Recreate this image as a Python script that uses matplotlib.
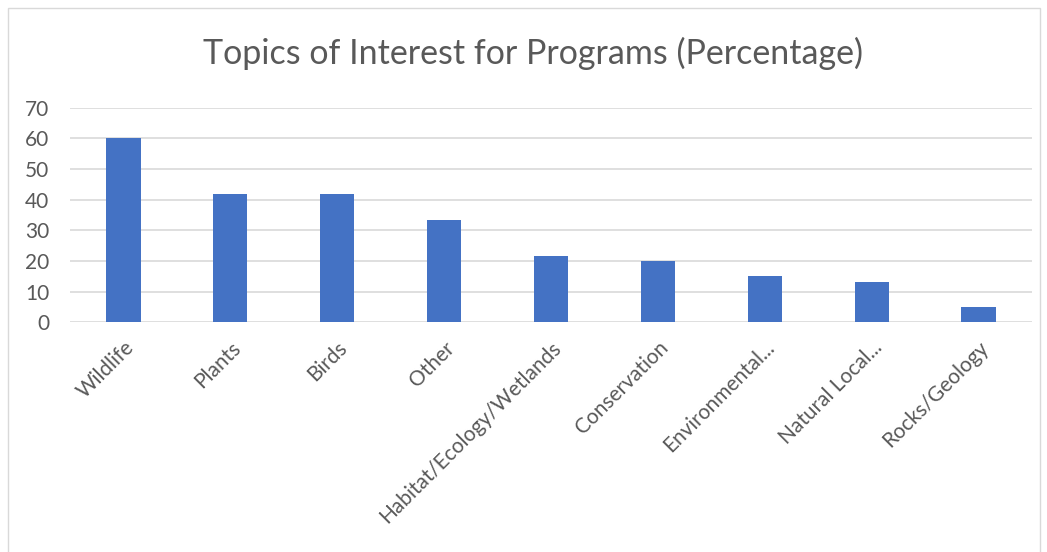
import matplotlib.pyplot as plt
from matplotlib.patches import Rectangle

# Topics and percentages
topics = ['Wildlife', 'Plants', 'Birds', 'Other', 'Habitat/Ecology/Wetlands',
          'Conservation', 'Environmental...', 'Natural Local...', 'Rocks/Geology']
percent = [60, 41.7, 41.7, 33.3, 21.7, 20, 15, 13.3, 5]
yticks = [0, 10, 20, 30, 40, 50, 60, 70]

plt.rcParams['font.family'] = ['Lato', 'DejaVu Sans']

fig = plt.figure(figsize=(10.47, 5.52), dpi=100)
ax = fig.add_axes([70 / 1047, (552 - 322.3) / 552, 962 / 1047, (322.3 - 107.7) / 552])

# chart-area border
fig.patches.append(Rectangle((8 / 1047, -0.1), 1032 / 1047, 1.1 - 8 / 552,
                             transform=fig.transFigure, fill=False,
                             edgecolor='#d9d9d9', linewidth=1))

x = range(len(topics))
ax.bar(x, percent, width=0.32, color='#4472C4', zorder=3)

ax.set_xlim(-0.5, len(topics) - 0.5)
ax.set_ylim(0, 70)
ax.set_yticks(yticks)
ax.yaxis.grid(True, color='#d9d9d9', linewidth=1.2)
ax.set_axisbelow(True)
for s in ax.spines.values():
    s.set_visible(False)
ax.tick_params(length=0, labelsize=15, colors='#595959')
ax.tick_params(axis='y', pad=15)
ax.tick_params(axis='x', pad=11)
ax.set_xticks(list(x))
ax.set_xticklabels(topics, rotation=45, ha='right', rotation_mode='anchor')

fig.text(533 / 1047, 1 - 53 / 552, 'Topics of Interest for Programs (Percentage)',
         ha='center', va='center', fontsize=24.5, color='#595959')

fig.savefig('out.png', dpi=100)
